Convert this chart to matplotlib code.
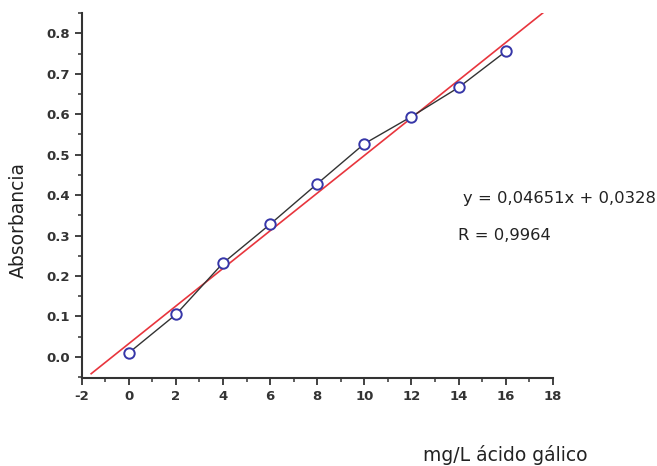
import numpy as np
import matplotlib.pyplot as plt
from matplotlib.ticker import MultipleLocator

# gallic acid calibration
conc = [0, 2, 4, 6, 8, 10, 12, 14, 16]
absorb = [0.010, 0.105, 0.232, 0.328, 0.428, 0.527, 0.594, 0.666, 0.755]
slope, intercept = 0.04651, 0.0328
fit_x = [-1.6, 17.6]

plt.rcParams["axes.unicode_minus"] = False


def plot_curve():
    fig = plt.figure(figsize=(6.57, 4.66), dpi=100)
    ax = fig.add_axes([0.1244, 0.189, 0.717, 0.783])

    fx = np.array(fit_x)
    ax.plot(fx, slope * fx + intercept, color="#e8353d", linewidth=1.2, zorder=2)
    ax.plot(conc, absorb, color="#333333", linewidth=1.0, zorder=3)
    ax.plot(conc, absorb, linestyle="none", marker="o", markersize=7.5,
            markerfacecolor="white", markeredgecolor="#3636a8",
            markeredgewidth=1.4, zorder=4)

    ax.set_xlim(-2, 18)
    ax.set_ylim(-0.052, 0.85)
    ax.xaxis.set_minor_locator(MultipleLocator(1))
    ax.yaxis.set_minor_locator(MultipleLocator(0.05))
    tf = dict(family="DejaVu Sans", weight="bold", size=9.5)
    yt = np.arange(0, 0.81, 0.1)
    ax.set_yticks(yt)
    ax.set_yticklabels([f"{v:.1f}" for v in yt], **tf)
    xt = np.arange(-2, 19, 2)
    ax.set_xticks(xt)
    ax.set_xticklabels([str(v) for v in xt], **tf)

    for s in ("top", "right"):
        ax.spines[s].set_visible(False)
    for s in ("left", "bottom"):
        ax.spines[s].set_linewidth(1.5)
        ax.spines[s].set_color("#333333")
    ax.tick_params(which="major", direction="out", length=5, width=1.3,
                   color="#333333", labelcolor="#333333")
    ax.tick_params(which="minor", direction="out", length=3, width=1.1,
                   color="#333333")

    txt = dict(color="#222222", family="DejaVu Sans")
    fig.text(0.028, 0.528, "Absorbancia", rotation=90, ha="center",
             va="center", fontsize=13.5, **txt)
    fig.text(0.769, 0.024, "mg/L ácido gálico", ha="center", va="center",
             fontsize=13.5, **txt)
    fig.text(0.705, 0.573, "y = 0,04651x + 0,0328", ha="left", va="center",
             fontsize=11.8, **txt)
    fig.text(0.697, 0.494, "R = 0,9964", ha="left", va="center",
             fontsize=11.8, **txt)

    fig.savefig("out.png", dpi=100)


plot_curve()
